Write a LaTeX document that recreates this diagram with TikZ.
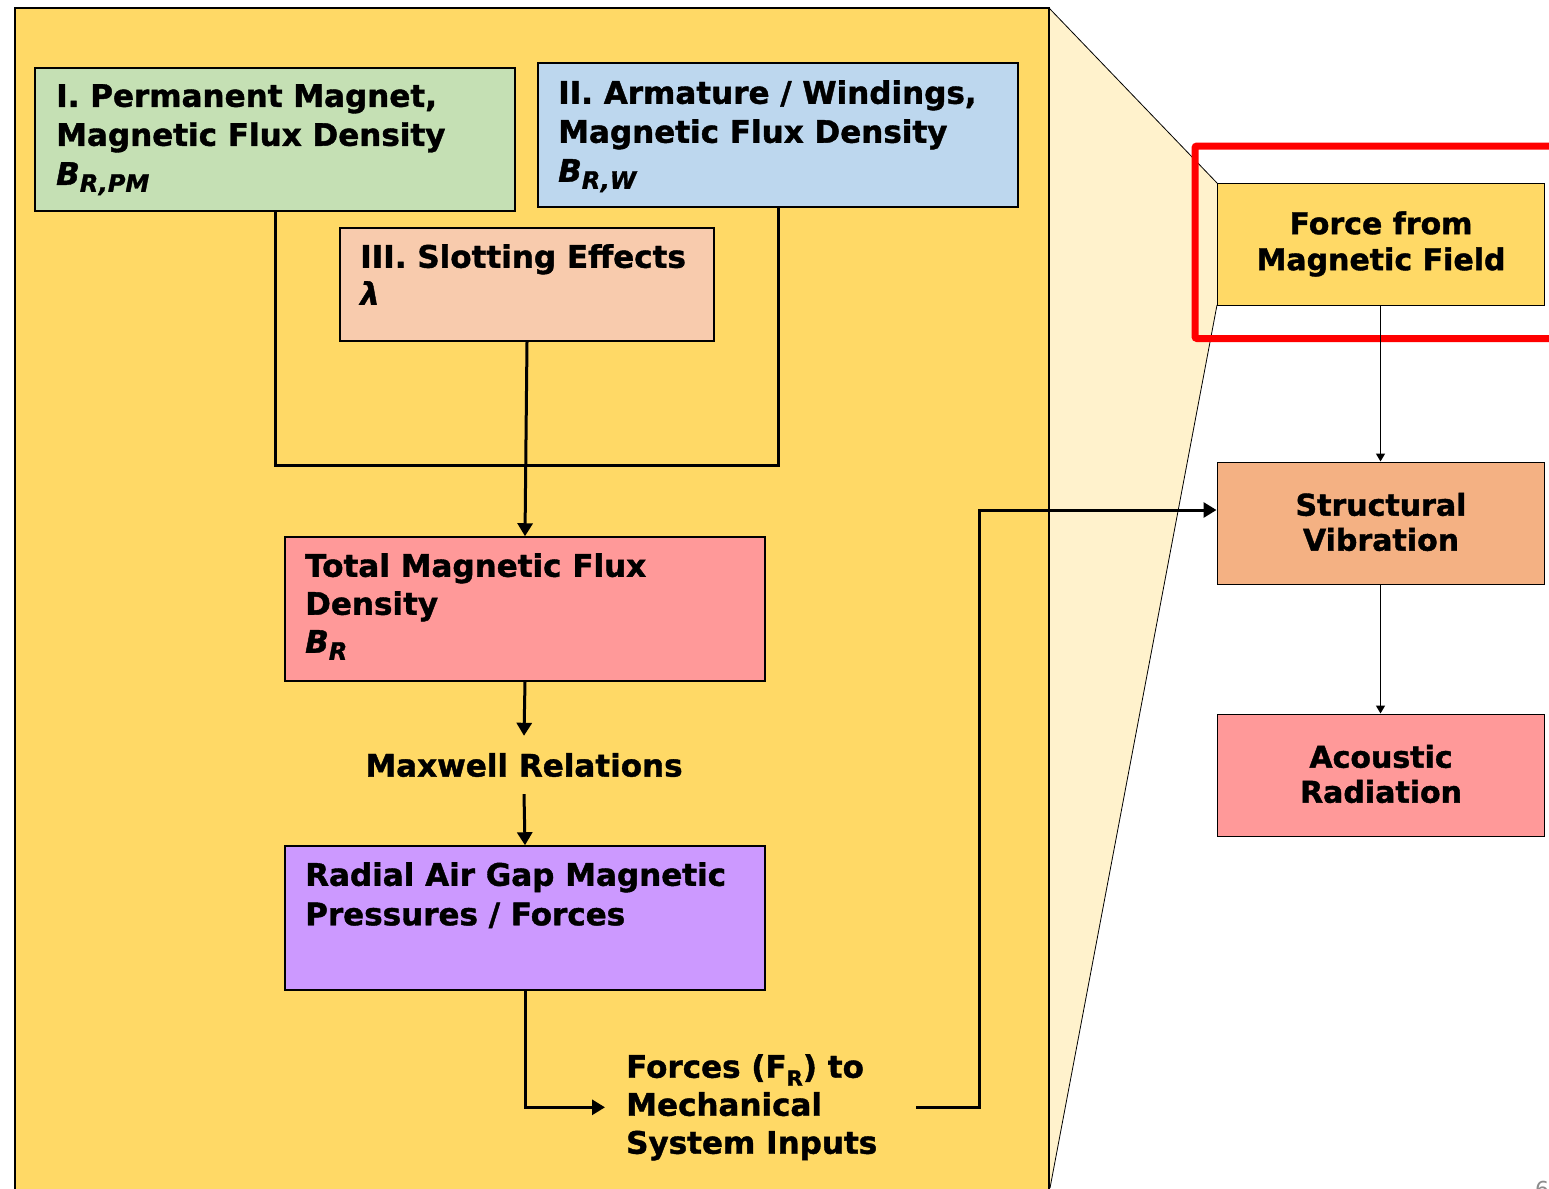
\documentclass[tikz,border=0pt]{standalone}
\usepackage{fontspec}
\setmainfont{DejaVu Sans}[BoldFeatures={FakeBold=1.3}, BoldItalicFeatures={FakeBold=1.3}]
\usetikzlibrary{arrows.meta,calc}
\definecolor{panelc}{HTML}{FFD966}
\definecolor{trapc}{HTML}{FFF2CC}
\definecolor{greenc}{HTML}{C5E0B4}
\definecolor{bluec}{HTML}{BDD7EE}
\definecolor{peachc}{HTML}{F8CBAD}
\definecolor{pinkc}{HTML}{FF9999}
\definecolor{purplec}{HTML}{CC99FF}
\definecolor{orangec}{HTML}{F4B183}
\definecolor{redc}{HTML}{FF0000}
\begin{document}
\begin{tikzpicture}[x=1pt,y=-1pt,
  box/.style={draw=black, line width=1.5pt, inner sep=0pt},
  lbl/.style={anchor=north west, inner sep=0pt, align=left, font=\bfseries\fontsize{31}{39}\selectfont},
  rlbl/.style={align=center, font=\bfseries\fontsize{30}{36}\selectfont},
  conn/.style={line width=3pt},
  arr/.style={line width=3pt, -{Triangle[length=13pt,width=15pt]}},
  tarr/.style={line width=1.5pt, -{Triangle[length=8pt,width=9pt]}},
]
\useasboundingbox (0,0) rectangle (1549,1188);
% zoom trapezoid
\fill[trapc] (1049,8) -- (1217,183) -- (1217,305) -- (1050,1188) -- (1049,1188) -- cycle;
\draw[line width=0.8pt] (1049,8) -- (1217,183);
\draw[line width=0.8pt] (1217,305) -- (1050,1188);
% main panel
\draw[fill=panelc, line width=2pt] (15,8) rectangle (1049,1200);

% boxes
\node[box, fill=greenc, minimum width=480pt, minimum height=143pt] (b1) at (275,139.5) {};
\node[lbl] (t1) at (56,84) {I. Permanent Magnet,\\Magnetic Flux Density\\{\itshape B\raisebox{-7pt}{\fontsize{24}{24}\selectfont R,PM}}};

\node[box, fill=bluec, minimum width=480pt, minimum height=144pt] (b2) at (778,135) {};
\node[lbl] (t2) at (558,80) {II. Armature / Windings,\\Magnetic Flux Density\\{\itshape B\raisebox{-7pt}{\fontsize{24}{24}\selectfont R,W}}};

\node[box, fill=peachc, minimum width=374pt, minimum height=113pt] (b3) at (527,284.5) {};
\node[lbl, font=\bfseries\fontsize{31}{37}\selectfont] (t3) at (360,244) {III. Slotting Effects\\{\itshape λ}};

\node[box, fill=pinkc, minimum width=480pt, minimum height=144pt] (tot) at (525,609) {};
\node[lbl, font=\bfseries\fontsize{31}{38}\selectfont] (ttot) at (305,553) {Total Magnetic Flux\\Density\\{\itshape B\raisebox{-7pt}{\fontsize{24}{24}\selectfont R}}};

\node[inner sep=0pt, minimum height=58pt, font=\bfseries\fontsize{31}{37}\selectfont] (max) at (524,765) {Maxwell Relations};

\node[box, fill=purplec, minimum width=480pt, minimum height=144pt] (rad) at (525,918) {};
\node[lbl, font=\bfseries\fontsize{31}{39.5}\selectfont] (trad) at (305,862) {Radial Air Gap Magnetic\\Pressures / Forces};

\node[lbl, font=\bfseries\fontsize{31}{38}\selectfont] (forces) at (626,1054) {Forces (F\raisebox{-8pt}{\fontsize{21}{21}\selectfont R}) to\\Mechanical\\System Inputs};

% right column
\node[box, line width=1pt, fill=panelc, minimum width=327pt, minimum height=122pt] (force) at (1380.5,244) {};
\node[rlbl] (tforce) at (1381,244) {Force from\\Magnetic Field};
\node[box, line width=1pt, fill=orangec, minimum width=327pt, minimum height=122pt] (struct) at (1380.5,523) {};
\node[rlbl, font=\bfseries\fontsize{30}{35}\selectfont] (tstruct) at (1381,522) {Structural\\Vibration};
\node[box, line width=1pt, fill=pinkc, minimum width=327pt, minimum height=122pt] (ac) at (1380.5,775) {};
\node[rlbl, font=\bfseries\fontsize{30}{35}\selectfont] (tac) at (1381,774) {Acoustic\\Radiation};

% red highlight
\draw[redc, line width=7pt, rounded corners=2pt] (1195,146) rectangle (1620,338.5);

% connectors
\coordinate (join) at (526,465);
\draw[conn] (b1.south) |- (join) -| (b2.south);
\draw[arr] (b3.south) -- (tot.north);
\draw[arr] (tot.south) -- (max.north);
\draw[arr] (max.south) -- (rad.north);
\draw[arr] (rad.south) |- ([xshift=-21pt]forces.west);
\coordinate (bend) at (979,510);
\draw[arr] ([xshift=39pt]forces.east) -| (bend) -- (struct.west |- bend);
\draw[tarr] (force.south) -- (struct.north);
\draw[tarr] (struct.south) -- (ac.north);

% page number (cut off at the page edge, as in the reference)
\node[anchor=north, inner sep=0pt, text=black!45, font=\fontsize{22}{22}\selectfont] (pg) at (1542,1181) {6};
\end{tikzpicture}
\end{document}
